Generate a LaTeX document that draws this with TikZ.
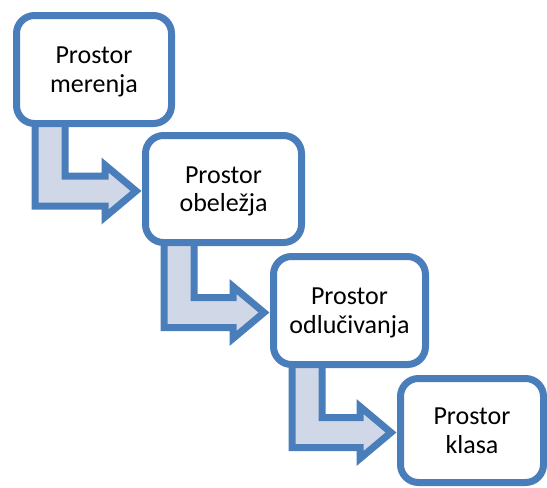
\documentclass[tikz,border=0pt]{standalone}
\usepackage{fontspec}
\setmainfont{Carlito}
\usetikzlibrary{calc,backgrounds}
\definecolor{stepblue}{RGB}{74,126,187}
\definecolor{stepfill}{RGB}{208,216,232}
\tikzset{
  stepbox/.style={draw=stepblue, line width=7pt, fill=white, rounded corners=18pt,
    outer sep=0pt, inner sep=0pt, text=black,
    font=\fontsize{26}{28.5}\selectfont},
  bentarrow/.style={draw=stepblue, fill=stepfill, line width=7pt,
    line join=miter, miter limit=10}
}
% two centred lines, set a little below the middle of the box
\newcommand\stepcaption[2]{%
  \raisebox{-3pt}[\height][\depth]{\begin{tabular}{@{}c@{}}#1\\#2\end{tabular}}}
% bent block arrow from the bottom of one step to the left side of the next
\newcommand\stepconnector[2]{%
  \draw[bentarrow] let \p1=(#1.south west), \p2=(#2.west) in
    (\x1+18.5pt,\y1+30pt) -- (\x1+18.5pt,\y2-17pt) -- (\x2-40.5pt,\y2-17pt)
    -- (\x2-40.5pt,\y2-28pt) -- (\x2-9.5pt,\y2-2pt) -- (\x2-40.5pt,\y2+24pt)
    -- (\x2-40.5pt,\y2+13pt) -- (\x1+48.5pt,\y2+13pt) -- (\x1+48.5pt,\y1+30pt)
    -- cycle;}
\begin{document}
\begin{tikzpicture}[x=1pt,y=-1pt]
\useasboundingbox (0,0) rectangle (547,488);
\node[stepbox, minimum width=155pt, minimum height=108pt] (b1) at (94,69.5) {\stepcaption{Prostor}{merenja}};
\node[stepbox, minimum width=156pt, minimum height=107pt] (b2) at (223.5,189) {\stepcaption{Prostor}{obeležja}};
\node[stepbox, minimum width=152pt, minimum height=108pt] (b3) at (349.5,310.5) {\stepcaption{Prostor}{odlučivanja}};
\node[stepbox, minimum width=143pt, minimum height=104pt] (b4) at (472,430.5) {\stepcaption{Prostor}{klasa}};
\begin{scope}[on background layer]
  \stepconnector{b1}{b2}
  \stepconnector{b2}{b3}
  \stepconnector{b3}{b4}
\end{scope}
\end{tikzpicture}
\end{document}
